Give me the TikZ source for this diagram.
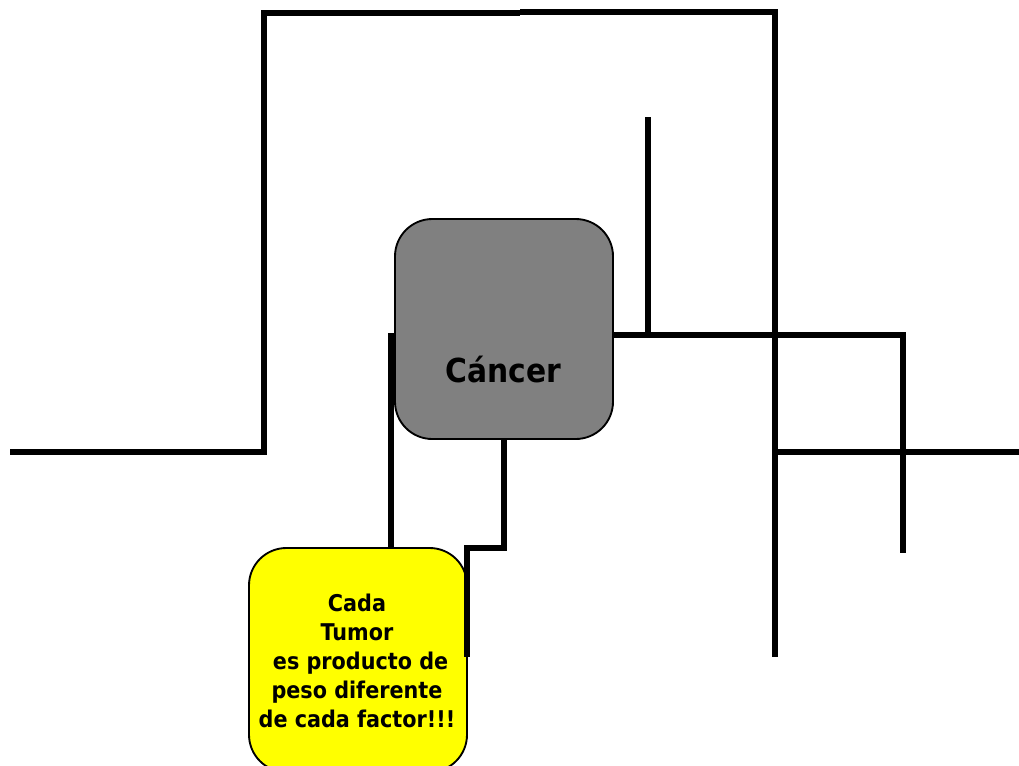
\documentclass[tikz,border=0pt]{standalone}
\usepackage{fontspec}
\newfontfamily\boxfont{DejaVu Sans Condensed}
\definecolor{boxgray}{RGB}{128,128,128}
\definecolor{boxyellow}{RGB}{255,255,0}
\begin{document}
\begin{tikzpicture}[x=0.75pt,y=-0.75pt,
  wire/.style={line width=4.2pt,line cap=butt,line join=miter},
  roundbox/.style={draw=black,line width=1.4pt,rounded corners=28pt,inner sep=0pt},
  lbl/.style={font=\boxfont\bfseries,text=black,align=center}]
\useasboundingbox (0,0) rectangle (1019,765);
% boxes
\node[roundbox,fill=boxgray,minimum width=163.5pt,minimum height=165pt] (cancer) at (504,329) {};
\node[lbl,font=\boxfont\bfseries\fontsize{24.8}{29}\selectfont] (cancertxt) at (503.5,369) {Cáncer};
\node[roundbox,fill=boxyellow,minimum width=163.5pt,minimum height=168pt] (tumor) at (358,660) {};
\node[lbl,font=\boxfont\bfseries\fontsize{17.3}{21.7}\selectfont] (tumortxt) at (357,661) {Cada\\Tumor\\\ es producto de\\peso diferente\\de cada factor!!!};
% coordinates
\coordinate (a1) at (10,452);
\coordinate (a2) at (264,452);
\coordinate (a3) at (264,13);
\coordinate (a4) at (520,13);
\coordinate (b1) at (520,12);
\coordinate (b2) at (775,12);
\coordinate (b3) at (775,657);
\coordinate (c1) at (775,452);
\coordinate (c2) at (1019,452);
\coordinate (d1) at (391,333);
\coordinate (d2) at (391,548);
\coordinate (e1) at (504,548);
\coordinate (e2) at (467,548);
\coordinate (e3) at (467,657);
\coordinate (f1) at (613,335);
\coordinate (f2) at (903,335);
\coordinate (f3) at (903,553);
\coordinate (g1) at (648,117);
\coordinate (g2) at (648,335);
% wires
\draw[wire] (a1) -- (a2) -- (a3) -- (a4);
\draw[wire] (b1) -- (b2) -- (b3);
\draw[wire] (c1) -- (c2);
\draw[wire] (d1) -- (d2);
\draw[wire] (cancer.south) -- (e1) -- (e2) -- (e3);
\draw[wire] (f1) -- (f2) -- (f3);
\draw[wire] (g1) -- (g2);
\end{tikzpicture}
\end{document}
